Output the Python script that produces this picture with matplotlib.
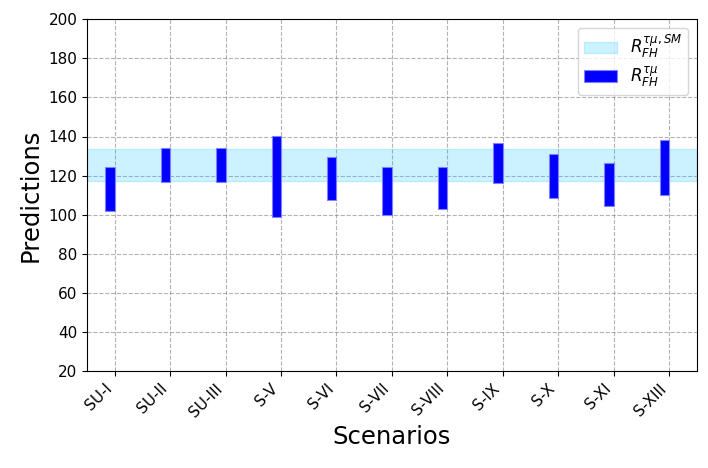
import numpy as np
import matplotlib
matplotlib.use('Agg')
from matplotlib import pyplot as plt

scenarios = ['SU-I', 'SU-II', 'SU-III', 'S-V', 'S-VI', 'S-VII', 'S-VIII',
             'S-IX', 'S-X', 'S-XI', 'S-XIII']
lower = [101.8, 116.7, 116.7, 98.8, 107.5, 100.0, 102.9, 116.2, 108.8, 104.7, 110.2]
upper = [124.5, 133.9, 133.9, 140.2, 129.4, 124.5, 124.6, 136.8, 131.0, 126.7, 138.1]
sm_low, sm_high = 117.3, 133.8

fig, ax = plt.subplots(figsize=(7.08, 4.68), dpi=100)

x = np.arange(len(scenarios))
ax.fill_between([-0.5, len(scenarios) - 0.5], sm_low, sm_high,
                color='deepskyblue', alpha=0.2, label=r'$R_{FH}^{\tau\mu,SM}$')
ax.bar(x - 0.085, np.array(upper) - np.array(lower), bottom=lower, width=0.17,
       color='blue', edgecolor=(0.5, 0.5, 1.0), linewidth=0.8,
       label=r'$R_{FH}^{\tau\mu}$')

ax.set_xlim(-0.5, len(scenarios) - 0.5)
ax.set_ylim(20, 200)
ax.set_yticks(np.arange(20, 201, 20))
ax.set_xticks(x)
ax.set_xticklabels(scenarios, rotation=45, ha='right', fontsize=11)
ax.tick_params(axis='y', labelsize=11)
ax.set_xlabel('Scenarios', fontsize=17.5)
ax.set_ylabel('Predictions', fontsize=17.5)
ax.grid(True, linestyle='--', color='gray', alpha=0.6)
ax.set_axisbelow(True)
ax.legend(loc='upper right', fontsize=12, labelspacing=0.2, borderpad=0.35)

plt.subplots_adjust(left=0.123, right=0.984, top=0.959, bottom=0.207)
plt.savefig('out.png')
